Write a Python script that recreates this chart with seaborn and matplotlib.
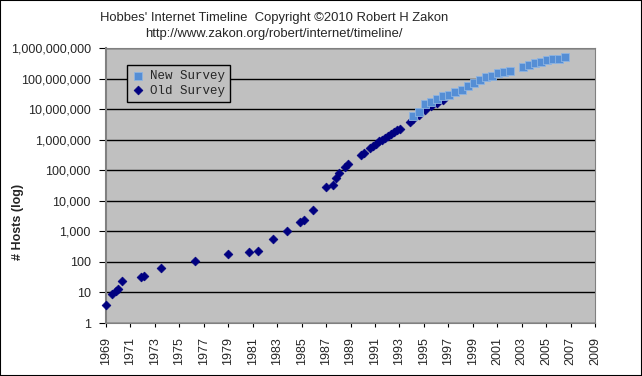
import matplotlib
matplotlib.use("Agg")
import matplotlib.pyplot as plt
import matplotlib.ticker as mticker
from matplotlib.patches import Rectangle
import pandas as pd
import seaborn as sns

# Hobbes' Internet Timeline host counts (survey month, hosts)
old_dates = [
    "1969-12", "1970-06", "1970-10", "1970-12", "1971-04", "1972-10", "1973-01",
    "1974-06", "1977-03", "1979-12", "1981-08", "1982-05", "1983-08", "1984-10",
    "1985-10", "1986-02", "1986-11", "1987-12", "1988-07", "1988-10", "1989-01",
    "1989-07", "1989-10", "1990-10", "1991-01", "1991-07", "1991-10", "1992-01",
    "1992-04", "1992-07", "1992-10", "1993-01", "1993-04", "1993-07", "1993-10",
    "1994-01", "1994-10", "1995-01", "1995-07", "1996-01", "1996-07", "1997-01",
    "1997-07",
]
old_hosts = [
    4, 9, 11, 13, 23, 31, 35,
    62, 111, 188, 213, 235, 562, 1024,
    1961, 2308, 5089, 28174, 33000, 56000, 80000,
    130000, 159000, 313000, 376000, 535000, 617000, 727000,
    890000, 992000, 1136000, 1313000, 1486000, 1776000, 2056000,
    2217000, 3864000, 4852000, 6642000, 9472000, 12881000, 16146000,
    19540000,
]
new_dates = [
    "1995-01", "1995-07", "1996-01", "1996-07", "1997-01", "1997-07", "1998-01",
    "1998-07", "1999-01", "1999-07", "2000-01", "2000-07", "2001-01", "2001-07",
    "2002-01", "2002-07", "2003-01", "2004-01", "2004-07", "2005-01", "2005-07",
    "2006-01", "2006-07", "2007-01", "2007-07",
]
new_hosts = [
    5846000, 8200000, 14352000, 16729000, 21819000, 26053000, 29670000,
    36739000, 43230000, 56218000, 72398092, 93047785, 109574429, 125888197,
    147344723, 162128493, 171638297, 233101481, 285139107, 317646084, 353284187,
    394991609, 439286364, 433193199, 489774269,
]
year_ticks = list(range(1969, 2010, 2))
host_ticks = [10 ** k for k in range(10)]


def to_axis_year(dates):
    # the original date axis starts at Dec 1969, which is labelled "1969"
    out = []
    for d in dates:
        y, m = d.split("-")
        out.append(int(y) + (int(m) - 12) / 12)
    return out


df_old = pd.DataFrame({"year": to_axis_year(old_dates), "hosts": old_hosts})
df_new = pd.DataFrame({"year": to_axis_year(new_dates), "hosts": new_hosts})

sns.set_style("white", {"axes.facecolor": "#C0C0C0", "axes.edgecolor": "#808080"})
plt.rcParams["font.family"] = ["Liberation Sans", "DejaVu Sans"]

fig = plt.figure(figsize=(6.42, 3.76), dpi=100)
ax = fig.add_axes([106 / 642, 1 - 323 / 376, 489 / 642, 275 / 376])

sns.scatterplot(data=df_old, x="year", y="hosts", marker="D", s=20,
                color="#000080", edgecolor="#000080", linewidth=0.5,
                label="Old Survey", ax=ax, zorder=3, clip_on=False)
sns.scatterplot(data=df_new, x="year", y="hosts", marker="s", s=26,
                color="#558ED5", edgecolor="#8DB4E2", linewidth=0.6,
                label="New Survey", ax=ax, zorder=4)

ax.set_yscale("log")
ax.set_ylim(1, 1e9)
ax.set_xlim(1969, 2009)
ax.set_xticks(year_ticks)
ax.set_xticklabels([str(y) for y in year_ticks], rotation=90, fontsize=9)
ax.set_yticks(host_ticks)
ax.yaxis.set_major_formatter(mticker.FuncFormatter(lambda v, p: f"{int(round(v)):,}"))
ax.yaxis.set_minor_locator(mticker.NullLocator())
ax.tick_params(axis="y", labelsize=9, length=5, width=0.8, color="black", direction="out", left=True, pad=6)
ax.tick_params(axis="x", length=3, width=0.8, color="black", direction="out", bottom=True, pad=7)
ax.yaxis.grid(True, color="black", linewidth=1.0)
ax.set_axisbelow(True)
for side in ["top", "right", "bottom"]:
    ax.spines[side].set_linewidth(0.8)
ax.spines["left"].set_linewidth(1.5)
ax.set_xlabel("")
ax.set_ylabel("")

fig.text(18 / 642, 1 - 222 / 376, "# Hosts (log)", rotation=90, fontsize=9,
         fontweight="bold", ha="center", va="center")
fig.text(274 / 642, 1 - 18 / 376, "Hobbes' Internet Timeline  Copyright \u00a92010 Robert H Zakon",
         fontsize=9.4, ha="center", va="center")
fig.text(274 / 642, 1 - 34 / 376, "http://www.zakon.org/robert/internet/timeline/",
         fontsize=9.4, ha="center", va="center")

handles, labels = ax.get_legend_handles_labels()
leg = ax.legend(handles[::-1], labels[::-1], loc="upper left",
                bbox_to_anchor=(0.043, 0.938), borderaxespad=0, fancybox=False,
                framealpha=1, edgecolor="black", handletextpad=0.4,
                labelspacing=0.2, borderpad=0.4, handlelength=1.0,
                prop={"family": "Liberation Mono", "size": 9})
leg.get_frame().set_linewidth(1.0)

fig.patches.append(Rectangle((0, 0), 1, 1, transform=fig.transFigure, fill=False,
                             edgecolor="black", linewidth=1.5))

fig.savefig("out.png", dpi=100)
